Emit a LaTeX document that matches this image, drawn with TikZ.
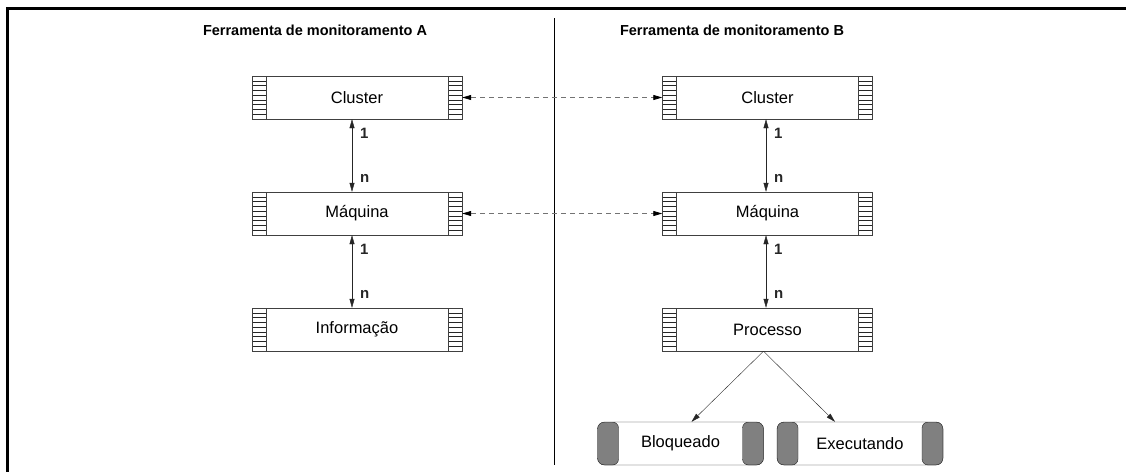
\documentclass[tikz,border=0pt]{standalone}
\usepackage{fontspec}
\setmainfont{Liberation Sans}
\usetikzlibrary{arrows.meta}

\begin{document}
\begin{tikzpicture}[
          x=1pt, y=-1pt,
          tabela/.style={
            draw=black!75,
            fill=white,
            minimum width=210pt,
            minimum height=43pt,
            inner sep=0pt,
            font=\fontsize{16.5}{18}\selectfont,
            path picture={
              \foreach \k in {1,...,8} {
                \draw[black!85] ([yshift={-\k*4.78pt}]path picture bounding box.north west) -- ++(14pt,0pt);
                \draw[black!85] ([yshift={-\k*4.78pt}]path picture bounding box.north east) -- ++(-14pt,0pt);
              }
              \draw[black!75] ([xshift=14pt]path picture bounding box.north west) -- ([xshift=14pt]path picture bounding box.south west);
              \draw[black!75] ([xshift=-14pt]path picture bounding box.north east) -- ([xshift=-14pt]path picture bounding box.south east);
            },
          },
          estado/.style={
            draw=black!90,
            fill=white,
            rounded corners=7pt,
            minimum width=166pt,
            minimum height=43pt,
            inner sep=0pt,
            font=\fontsize{16.5}{18}\selectfont,
            path picture={
              \filldraw[fill=black!50, draw=black!85, rounded corners=6pt] (path picture bounding box.north west) rectangle ([xshift=21pt]path picture bounding box.south west);
              \filldraw[fill=black!50, draw=black!85, rounded corners=6pt] (path picture bounding box.north east) rectangle ([xshift=-21pt]path picture bounding box.south east);
            },
          },
          titulo/.style={font=\bfseries\fontsize{14.5}{16}\selectfont, inner sep=0pt},
          card/.style={font=\bfseries\fontsize{15}{16}\selectfont, inner sep=4pt, xshift=4pt},
          seta/.style={black!85, {Triangle[length=9pt,width=5pt]}-{Triangle[length=9pt,width=5pt]}},
          tracejado/.style={black!55, dash pattern=on 5pt off 4pt, thick,
            {Triangle[length=9pt,width=5pt,black]}-{Triangle[length=9pt,width=5pt,black]}},
          >={Triangle[length=9pt,width=5pt]},
        ]
        \useasboundingbox (0,0) rectangle (1126,472);
        % moldura e divisoria
        \draw[line width=2.8pt] (1126,8.5) -- (7.5,8.5) -- (7.5,472);
        \draw[line width=1pt] (554,18) -- (554,465);

        \node[titulo] (tituloA) at (315,30) {Ferramenta de monitoramento A};
        \node[titulo] (tituloB) at (732,30) {Ferramenta de monitoramento B};

        % ferramenta A
        \node[tabela] (clusterA) at (357,97.5) {Cluster};
        \node[tabela] (maquinaA) at (357,213.5) {Máquina};
        \node[tabela] (infoA) at (357,329.5) {Informação};

        % ferramenta B
        \node[tabela] (clusterB) at (767.5,97.5) {Cluster};
        \node[tabela] (maquinaB) at (767.5,213.5) {Máquina};
        \node[tabela] (processoB) at (767.5,329.5) {Processo};
        \node[estado] (bloq) at (680.5,443.5) {Bloqueado};
        \node[estado] (exec) at (860,443.5) {Executando};

        \draw[seta] ([xshift=-5pt]clusterA.south) -- ([xshift=-5pt]maquinaA.north)
          node[card, pos=0.2, right] (umA1) {1} node[card, pos=0.82, right] (nA1) {n};
        \draw[seta] ([xshift=-5pt]maquinaA.south) -- ([xshift=-5pt]infoA.north)
          node[card, pos=0.2, right] (umA2) {1} node[card, pos=0.82, right] (nA2) {n};
        \draw[seta] ([xshift=-1.5pt]clusterB.south) -- ([xshift=-1.5pt]maquinaB.north)
          node[card, pos=0.2, right] (umB1) {1} node[card, pos=0.82, right] (nB1) {n};
        \draw[seta] ([xshift=-1.5pt]maquinaB.south) -- ([xshift=-1.5pt]processoB.north)
          node[card, pos=0.2, right] (umB2) {1} node[card, pos=0.82, right] (nB2) {n};

        \draw[tracejado] (clusterA.east) -- (clusterB.west);
        \draw[tracejado] (maquinaA.east) -- (maquinaB.west);

        \draw[black!85, ->] ([xshift=-4pt]processoB.south) -- ([xshift=11pt]bloq.north);
        \draw[black!85, ->] ([xshift=-4pt]processoB.south) -- ([xshift=-25pt]exec.north);
        \end{tikzpicture}
\end{document}
